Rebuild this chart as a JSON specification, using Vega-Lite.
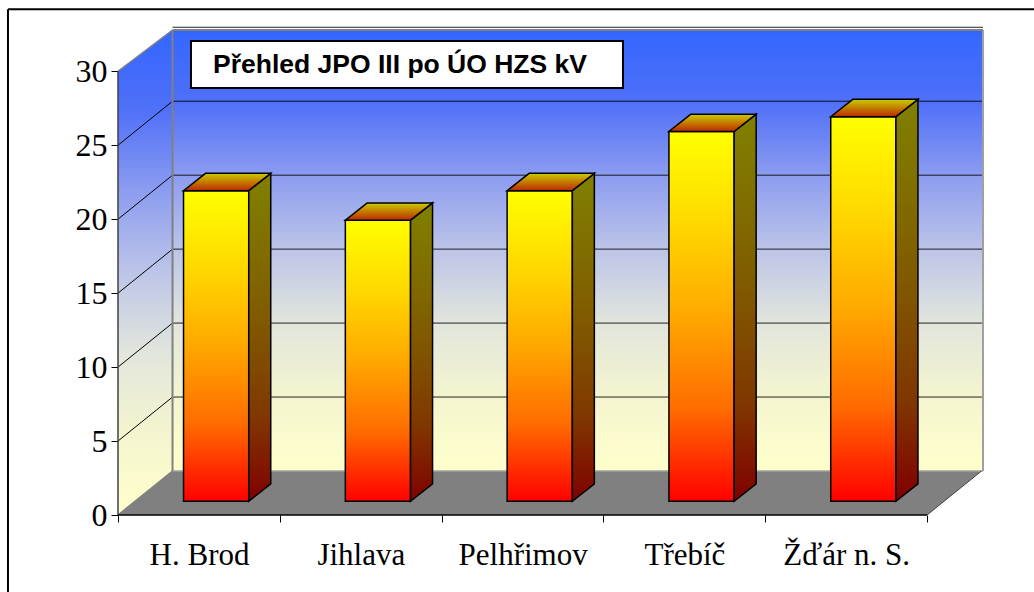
{
"$schema":"https://vega.github.io/schema/vega-lite/v6.json",
"width":865,"height":485,"autosize":"none",
"padding":{"left":118,"top":30,"right":51,"bottom":77},
"background":"white",
"config":{"view":{"stroke":null}},
"data":{"name":"title"},
"datasets":{
"bars":[{"name":"H. Brod","i":0,"value":21},{"name":"Jihlava","i":1,"value":19},{"name":"Pelhřimov","i":2,"value":21},{"name":"Třebíč","i":3,"value":25},{"name":"Žďár n. S.","i":4,"value":26}],
"ticks":[{"v":0},{"v":5},{"v":10},{"v":15},{"v":20},{"v":25},{"v":30}],
"depth":[{"d":0},{"d":1}],
"title":[{"t":"Přehled JPO III po ÚO HZS kV"}]
},
"layer":[
{"mark":{"type":"rect","fill":{"gradient":"linear","x1":0,"y1":0,"x2":0,"y2":1,"stops":[{"offset":0,"color":"#3366FF"},{"offset":0.165,"color":"#5070F8"},{"offset":0.33,"color":"#8C9CF0"},{"offset":0.5,"color":"#BDC5E8"},{"offset":0.667,"color":"#E2E6DC"},{"offset":0.83,"color":"#F4F5CF"},{"offset":1,"color":"#FFFFCC"}]}},
"encoding":{
"x":{"datum":0.337,"type":"quantitative","scale":{"domain":[0,5.346],"nice":false,"zero":false},"axis":{"values":[0,1,2,3,4,5],"title":null,"grid":false,"domain":false,"tickColor":"black","tickSize":7,"tickWidth":1,"labelFont":"Liberation Serif","labelFontSize":31,"labelColor":"black","labelPadding":18,"labelOffset":81,"labelAlign":"center","labelOverlap":false,"labelBound":false,"labelFlush":false,"labelExpr":"['H. Brod','Jihlava','Pelhřimov','Třebíč','Žďár n. S.',''][datum.value]"}},
"x2":{"datum":5.346},
"y":{"datum":2.975,"type":"quantitative","scale":{"domain":[0,32.79],"nice":false,"zero":false},"axis":{"values":[0,5,10,15,20,25,30],"title":null,"grid":false,"domain":false,"tickColor":"black","tickSize":7,"tickWidth":1,"labelFont":"Liberation Serif","labelFontSize":32,"labelColor":"black","labelPadding":4,"format":"d"}},
"y2":{"datum":32.79}}},
{"data":{"name":"depth"},
"transform":[{"calculate":"datum.d*0.337","as":"x"},{"calculate":"30+datum.d*2.79","as":"y"},{"calculate":"datum.d*2.975","as":"y2"}],
"mark":{"type":"area","fill":{"gradient":"linear","x1":0,"y1":0,"x2":0,"y2":1,"stops":[{"offset":0,"color":"#3366FF"},{"offset":0.165,"color":"#5070F8"},{"offset":0.33,"color":"#8C9CF0"},{"offset":0.5,"color":"#BDC5E8"},{"offset":0.667,"color":"#E2E6DC"},{"offset":0.83,"color":"#F4F5CF"},{"offset":1,"color":"#FFFFCC"}]}},
"encoding":{"x":{"field":"x","type":"quantitative"},"y":{"field":"y","type":"quantitative"},"y2":{"field":"y2"}}},
{"data":{"name":"depth"},
"transform":[{"calculate":"datum.d*0.337","as":"x"},{"calculate":"5+datum.d*0.337","as":"x2"},{"calculate":"datum.d*2.975","as":"y"}],
"mark":{"type":"area","orient":"horizontal","fill":"#808080"},
"encoding":{"y":{"field":"y","type":"quantitative"},"x":{"field":"x","type":"quantitative"},"x2":{"field":"x2"}}},
{"data":{"name":"ticks"},
"transform":[{"filter":"datum.v>0"},{"calculate":"datum.v+2.975","as":"yb"}],
"mark":{"type":"rule","color":"#000000","strokeWidth":1,"opacity":0.85},
"encoding":{"x":{"datum":0.337,"type":"quantitative"},"x2":{"datum":5.346},"y":{"field":"yb","type":"quantitative"},"y2":{"field":"yb"}}},
{"data":{"name":"ticks"},
"transform":[{"filter":"datum.v>0 && datum.v<30"},{"calculate":"datum.v+2.975","as":"yb"}],
"mark":{"type":"rule","color":"#000000","strokeWidth":1},
"encoding":{"x":{"datum":0,"type":"quantitative"},"x2":{"datum":0.337},"y":{"field":"v","type":"quantitative"},"y2":{"field":"yb"}}},
{"mark":{"type":"rule","color":"#808080","strokeWidth":2},
"encoding":{"x":{"datum":0.337,"type":"quantitative"},"y":{"datum":2.975,"type":"quantitative"},"y2":{"datum":32.79}}},
{"mark":{"type":"rule","color":"#A0A0A0","strokeWidth":2},
"encoding":{"x":{"datum":5.346,"type":"quantitative"},"y":{"datum":2.975,"type":"quantitative"},"y2":{"datum":32.79}}},
{"mark":{"type":"rule","color":"#808080","strokeWidth":2},
"encoding":{"x":{"datum":0.337,"type":"quantitative"},"x2":{"datum":5.346},"y":{"datum":32.79,"type":"quantitative"}}},
{"mark":{"type":"rule","color":"#A0A0A0","strokeWidth":1.5},
"encoding":{"x":{"datum":0.337,"type":"quantitative"},"x2":{"datum":5.346},"y":{"datum":2.975,"type":"quantitative"}}},
{"mark":{"type":"rule","color":"#808080","strokeWidth":1.5},
"encoding":{"x":{"datum":0,"type":"quantitative"},"x2":{"datum":0.337},"y":{"datum":30,"type":"quantitative"},"y2":{"datum":32.79}}},
{"mark":{"type":"rule","color":"#808080","strokeWidth":1.5},
"encoding":{"x":{"datum":0,"type":"quantitative"},"x2":{"datum":0.337},"y":{"datum":0,"type":"quantitative"},"y2":{"datum":2.975}}},
{"mark":{"type":"rule","color":"#404040","strokeWidth":1.5},
"encoding":{"x":{"datum":0,"type":"quantitative"},"y":{"datum":0,"type":"quantitative"},"y2":{"datum":30}}},
{"mark":{"type":"rule","color":"black","strokeWidth":1.5},
"encoding":{"x":{"datum":0,"type":"quantitative"},"x2":{"datum":5},"y":{"datum":0,"type":"quantitative"}}},
{"mark":{"type":"rule","color":"#404040","strokeWidth":1},
"encoding":{"x":{"datum":5,"type":"quantitative"},"x2":{"datum":5.337},"y":{"datum":0,"type":"quantitative"},"y2":{"datum":2.975}}},
{"data":{"name":"bars"},
"transform":[{"calculate":"datum.i+0.405","as":"x0"},{"calculate":"datum.x0+0.403","as":"x1"},{"calculate":"0.93+datum.value","as":"top"},{"calculate":"0.93","as":"bot"}],
"mark":{"type":"rect","stroke":"black","strokeWidth":1.5,"fill":{"gradient":"linear","x1":0,"y1":0,"x2":0,"y2":1,"stops":[{"offset":0,"color":"#FFFF00"},{"offset":0.25,"color":"#FFD800"},{"offset":0.5,"color":"#FFA800"},{"offset":0.75,"color":"#FF6C00"},{"offset":1,"color":"#FF0000"}]}},
"encoding":{"x":{"field":"x0","type":"quantitative"},"x2":{"field":"x1"},"y":{"field":"top","type":"quantitative"},"y2":{"field":"bot"}}},
{"data":{"name":"bars"},
"transform":[{"calculate":"[0,1]","as":"d"},{"flatten":["d"]},{"calculate":"datum.i+0.808+datum.d*0.136","as":"x"},{"calculate":"0.93+datum.value+datum.d*1.17","as":"y"},{"calculate":"0.93+datum.d*1.17","as":"y2"}],
"mark":{"type":"area","stroke":"black","strokeWidth":1.5,"fill":{"gradient":"linear","x1":0,"y1":0,"x2":0,"y2":1,"stops":[{"offset":0,"color":"#808000"},{"offset":0.25,"color":"#806C00"},{"offset":0.5,"color":"#805400"},{"offset":0.75,"color":"#803600"},{"offset":1,"color":"#800000"}]}},
"encoding":{"x":{"field":"x","type":"quantitative"},"y":{"field":"y","type":"quantitative"},"y2":{"field":"y2"},"detail":{"field":"name"}}},
{"data":{"name":"bars"},
"transform":[{"calculate":"[0,1]","as":"d"},{"flatten":["d"]},{"calculate":"datum.i+0.405+datum.d*0.136","as":"x"},{"calculate":"datum.x+0.403","as":"x2"},{"calculate":"0.93+datum.value+datum.d*1.17","as":"y"}],
"mark":{"type":"area","orient":"horizontal","stroke":"black","strokeWidth":1.5,"fill":{"gradient":"linear","x1":0,"y1":0,"x2":0,"y2":1,"stops":[{"offset":0,"color":"#CCCC00"},{"offset":1,"color":"#BB2A00"}]}},
"encoding":{"y":{"field":"y","type":"quantitative"},"x":{"field":"x","type":"quantitative"},"x2":{"field":"x2"},"detail":{"field":"name"}}},
{"mark":{"type":"rect","fill":"white","stroke":"black","strokeWidth":2},
"encoding":{"x":{"datum":0.451,"type":"quantitative"},"x2":{"datum":3.121},"y":{"datum":32.05,"type":"quantitative"},"y2":{"datum":28.87}}},
{"mark":{"type":"text","font":"Liberation Sans","fontWeight":"bold","fontSize":26.5,"align":"left","baseline":"middle","color":"black"},
"encoding":{"text":{"field":"t"},"x":{"datum":0.587,"type":"quantitative"},"y":{"datum":30.43,"type":"quantitative"}}},
{"mark":{"type":"rule","color":"black","strokeWidth":2,"clip":false},
"encoding":{"x":{"datum":-0.68,"type":"quantitative"},"x2":{"datum":5.67},"y":{"datum":34.2,"type":"quantitative"}}},
{"mark":{"type":"rule","color":"black","strokeWidth":2,"clip":false},
"encoding":{"x":{"datum":-0.68,"type":"quantitative"},"y":{"datum":34.2,"type":"quantitative"},"y2":{"datum":-5.2}}}
]
}
